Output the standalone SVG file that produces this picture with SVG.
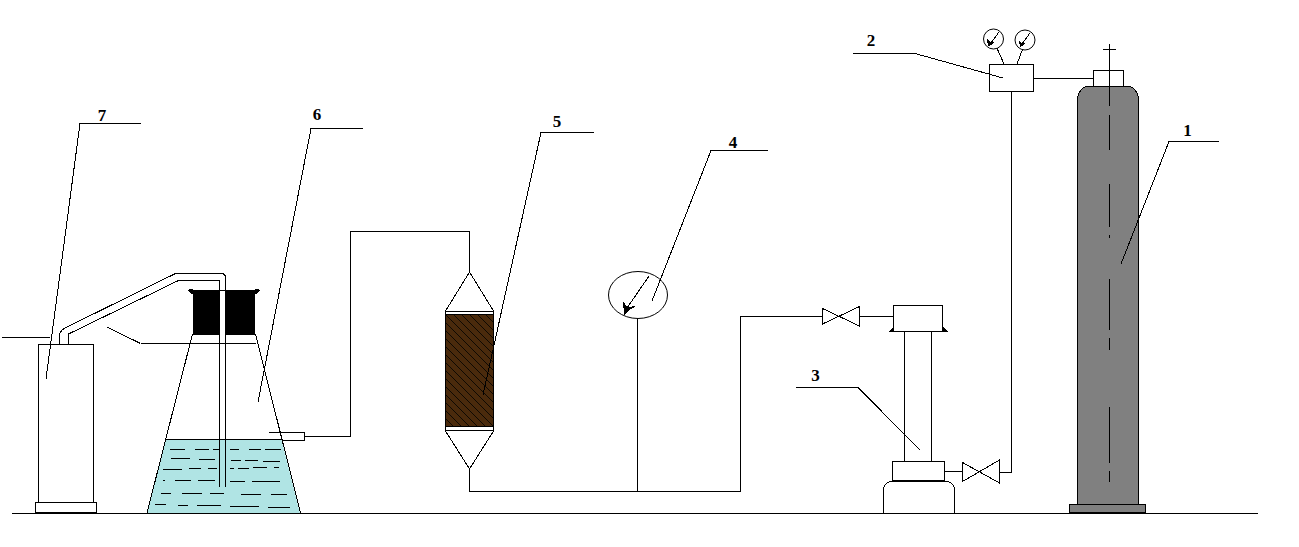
<svg xmlns="http://www.w3.org/2000/svg" width="1299" height="547" viewBox="0 0 1299 547">
<style>
.l{fill:none;stroke:#000;stroke-width:1;shape-rendering:crispEdges}
.w{fill:#fff;stroke:#000;stroke-width:1;shape-rendering:crispEdges}
.k{fill:#000;stroke:none;shape-rendering:crispEdges}
.g{fill:#808080;stroke:#000;stroke-width:1;shape-rendering:crispEdges}
.t{font-family:"Liberation Serif","Times New Roman",serif;font-weight:bold;font-size:17px;fill:#000;text-anchor:middle}
</style>
<defs>
<pattern id="hatch" patternUnits="userSpaceOnUse" width="8" height="8" patternTransform="translate(445 314)">
<rect width="8" height="8" fill="#4a2a0c"/>
<path d="M-2 -2L10 10M-6 2L2 10M6 -2L10 2" stroke="#000" stroke-width="0.8" fill="none"/>
</pattern>
</defs>
<rect width="1299" height="547" fill="#fff"/>
<g id="floor"><path class="l" d="M12 513.5H1258"/></g>
<g id="connectors">
<path class="l" d="M304 436.5H350.5V231.5H469.5V272"/>
<path class="l" d="M469.5 469V491.5H740.5V316.5H822"/>
<path class="l" d="M637.5 318V491.5"/>
<path class="l" d="M860 316.5H893"/>
<path class="l" d="M945 471.5H962"/>
<path class="l" d="M1000 472.5H1011.5V92"/>
<path class="l" d="M1034 78.5H1094"/>
</g>
<g id="node-7">
<rect class="w" x="38.5" y="344.5" width="55" height="158"/>
<rect class="w" x="35.5" y="502.5" width="61" height="10"/>
</g>
<g id="node-6">
<path d="M165.5 439.5H281.5L300 513H147Z" fill="#b0e4e4"/>
<path class="l" d="M192.5 334L147 513M255.5 334L300.5 513M165.5 439.5H281.5"/>
<path class="l" d="M170 449.5h15M195 449.5h14M213 449.5h7M230 449.5h9M249 449.5h12M265 449.5h16M171 458.5h19M199 459.5h16M231 460.5h10M245 460.5h13M263 461.5h17M163 469.5h19M189 468.5h12M208 468.5h9M230 468.5h4M238 468.5h11M253 467.5h14M274 467.5h5M163 480.5h2M175 480.5h16M198 480.5h17M230 481.5h15M252 481.5h28M161 493.5h10M182 493.5h20M210 493.5h14M241 494.5h20M271 494.5h16M155 504.5h11M178 505.5h10M197 505.5h24M230 506.5h29M268 507.5h22"/>
<rect class="k" x="193" y="290" width="62" height="45"/>
<path class="k" d="M188 290L190 288.5H193V294H191ZM260 290L258 288.5H255V294H257Z"/>
<path class="l" d="M140.5 343.5H256M107 327L140.5 343.5"/>
<path class="l" d="M269 432.5H304.5V440.5H282"/>
</g>
<g id="tube">
<rect x="220" y="291" width="5" height="44" fill="#fff"/>
<path class="l" d="M59.5 344V336Q59.5 331 65 328L175.5 273.5H221.5Q225.5 273.5 225.5 278V487"/>
<path class="l" d="M68.5 344V334L178.5 280.5H219.5V487"/>
</g>
<g id="node-5">
<path class="l" d="M469.5 272L445.5 311M469.5 272L493.5 311M445.5 431L469.5 469L493.5 431"/>
<rect class="w" x="445.5" y="311.5" width="48" height="119"/>
<rect x="445.5" y="314" width="48" height="112" fill="url(#hatch)" stroke="#000" stroke-width="1" shape-rendering="crispEdges"/>
</g>
<g id="node-4">
<ellipse cx="638" cy="295" rx="29.5" ry="23.5" fill="#fff" stroke="#000"/>
<path class="l" d="M649 276L627 308"/>
<path class="k" d="M623 301L627 307L636 306L628 311L624 315Z"/>
</g>
<g id="node-3">
<path class="l" d="M904.5 331V461M931.5 331V461"/>
<rect class="w" x="893.5" y="305.5" width="49" height="26"/>
<path class="k" d="M888 332L893 327V332ZM943 327L948 332H943Z"/>
<rect class="w" x="892.5" y="461.5" width="52" height="19"/>
<path class="w" d="M883.5 513V490Q883.5 483 892 481H946Q954.5 483 954.5 490V513"/>
</g>
<g id="valve-a"><path class="w" d="M822.5 308.5V324L859.5 306.5V326Z"/></g>
<g id="valve-b"><path class="w" d="M962.5 462.5V481.5L999.5 460V483Z"/></g>
<g id="node-2">
<rect class="w" x="989.5" y="64.5" width="44" height="27"/>
<path class="l" d="M996 46L1004 64M1023 48L1017 64"/>
<circle cx="993.5" cy="39" r="10" fill="#fff" stroke="#000"/>
<circle cx="1025" cy="40" r="10" fill="#fff" stroke="#000"/>
<path class="l" d="M999 32L991 43M1030 33L1022 44"/>
<path class="k" d="M987 39L990 42L994 42L991 45L988 46ZM1019 41L1022 43L1026 43L1022 46L1020 47Z"/>
</g>
<g id="node-1">
<rect class="g" x="1069.5" y="504.5" width="76" height="8"/>
<path class="g" d="M1077.5 504.5V100A12 14 0 0 1 1089.5 86H1126.5A12 14 0 0 1 1138.5 100V504.5Z"/>
<rect class="w" x="1093.5" y="70.5" width="30" height="16"/>
<path class="l" d="M1103 49.5H1116M1109.5 44V105.5M1109.5 115V150M1109.5 184V226.5M1109.5 235V238M1109.5 279V330M1109.5 338V350M1109.5 407V462.5M1109.5 471V481.5"/>
</g>
<g id="leaders">
<path class="l" d="M1219 141.5H1169L1121 264"/>
<path class="l" d="M853 53.5H915L1003 78"/>
<path class="l" d="M796 387.5H858L920 450"/>
<path class="l" d="M768 150.5H711L652 301"/>
<path class="l" d="M594 132.5H541L483 395"/>
<path class="l" d="M363 128.5H311L258 402"/>
<path class="l" d="M141 123.5H80L46 379"/>
<path class="l" d="M2 337.5H50"/>
</g>
<g id="labels">
<text class="t" x="1187.5" y="136">1</text>
<text class="t" x="871" y="46">2</text>
<text class="t" x="815.5" y="381">3</text>
<text class="t" x="733" y="148">4</text>
<text class="t" x="557" y="127">5</text>
<text class="t" x="317" y="120">6</text>
<text class="t" x="102" y="121">7</text>
</g>
</svg>
